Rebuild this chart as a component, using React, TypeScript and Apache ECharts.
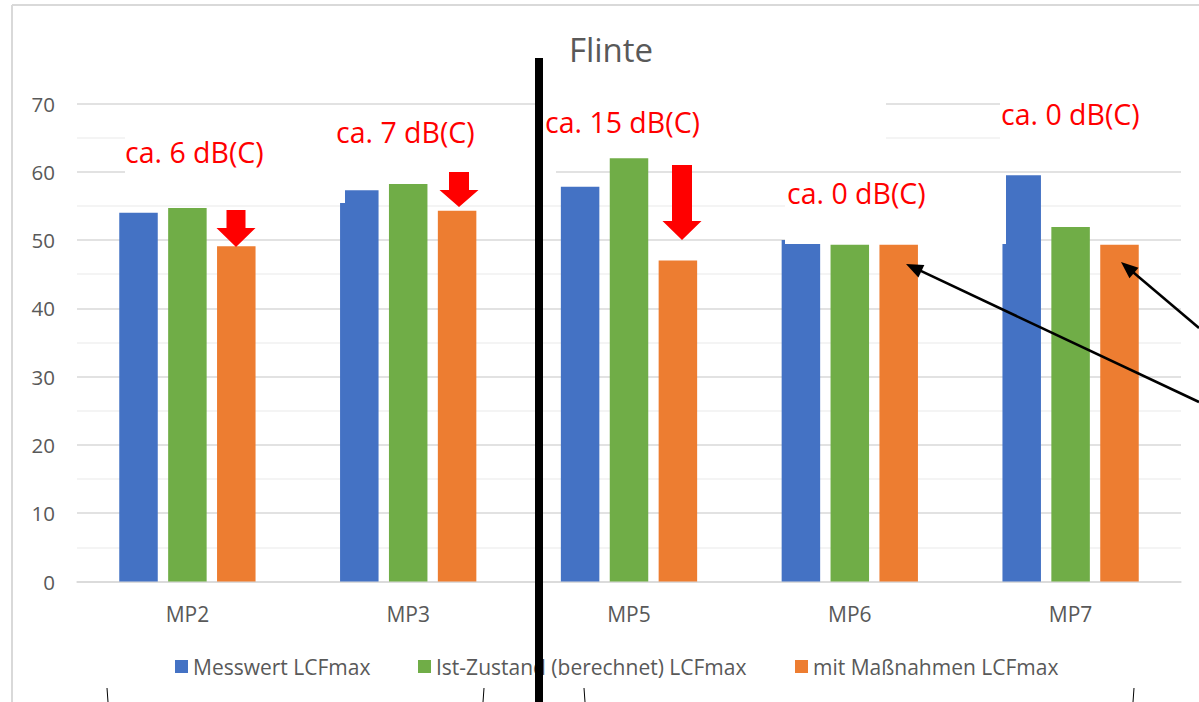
import React, { useEffect, useRef } from "react";
import * as echarts from "echarts";

const categories = ["MP2", "MP3", "MP5", "MP6", "MP7"];
const seriesNames = [
  "Messwert LCFmax",
  "Ist-Zustand (berechnet) LCFmax",
  "mit Maßnahmen LCFmax",
];
const messwert = [54.0, 57.3, 57.8, 50.0, 59.5];
const istZustand = [54.7, 58.2, 62.0, 49.3, 51.9];
const massnahmen = [49.1, 54.3, 47.0, 49.3, 49.3];
const yMin = 0;
const yMax = 70;
const yInterval = 10;
const titleText = "Flinte";
const noteTexts = ["ca. 6 dB(C)", "ca. 7 dB(C)", "ca. 15 dB(C)", "ca. 0 dB(C)", "ca. 0 dB(C)"];

const colors = ["#4472C4", "#70AD47", "#ED7D31"];
const FONT = "'Open Sans', 'Noto Sans', sans-serif";
const GRAY = "#595959";

function downArrow(cx: number, top: number, headTop: number, tip: number, shaftW: number, headW: number) {
  const s = shaftW / 2;
  const h = headW / 2;
  return {
    type: "polygon",
    z: 100,
    shape: {
      points: [
        [cx - s, top],
        [cx + s, top],
        [cx + s, headTop],
        [cx + h, headTop],
        [cx, tip],
        [cx - h, headTop],
        [cx - s, headTop],
      ],
    },
    style: { fill: "#FF0000" },
  };
}

function blackArrow(x1: number, y1: number, x2: number, y2: number) {
  const dx = x2 - x1;
  const dy = y2 - y1;
  const len = Math.sqrt(dx * dx + dy * dy);
  const ux = dx / len;
  const uy = dy / len;
  const hl = 17;
  const hw = 7;
  const bx = x2 - ux * hl;
  const by = y2 - uy * hl;
  const px = -uy;
  const py = ux;
  return [
    {
      type: "line",
      z: 100,
      shape: { x1, y1, x2: bx + ux * 3, y2: by + uy * 3 },
      style: { stroke: "#000", lineWidth: 2.5 },
    },
    {
      type: "polygon",
      z: 100,
      shape: {
        points: [
          [x2, y2],
          [bx + px * hw, by + py * hw],
          [bx - px * hw, by - py * hw],
        ],
      },
      style: { fill: "#000" },
    },
  ];
}

function whiteBox(x: number, y: number, w: number, h: number) {
  return { type: "rect", z: 99, shape: { x, y, width: w, height: h }, style: { fill: "#fff" } };
}

function note(text: string, x: number, y: number) {
  return {
    type: "text",
    z: 101,
    x,
    y,
    style: {
      text,
      fill: "#FF0000",
      font: `28.5px ${FONT}`,
      textAlign: "left",
      textVerticalAlign: "middle",
    },
  };
}

export default function App() {
  const ref = useRef<HTMLDivElement>(null);
  useEffect(() => {
    if (!ref.current) return;
    const chart = echarts.init(ref.current, undefined, { renderer: "svg" });
    const legendLefts = [175, 418, 795];
    const option: any = {
      animation: false,
      backgroundColor: "#fff",
      color: colors,
      grid: { left: 77, right: 18, top: 103.5, bottom: 120.5, containLabel: false },
      legend: seriesNames.map((n, i) => ({
        data: [n],
        left: legendLefts[i],
        top: 656,
        padding: 0,
        icon: "rect",
        itemWidth: 13,
        itemHeight: 13,
        itemGap: 6,
        selectedMode: false,
        textStyle: { color: GRAY, fontSize: 21, fontFamily: FONT, lineHeight: 20 },
      })),
      xAxis: {
        type: "category",
        data: categories,
        axisLine: { show: true, lineStyle: { color: "#d9d9d9", width: 1.5 } },
        axisTick: { show: false },
        axisLabel: { color: GRAY, fontSize: 21, fontFamily: FONT, margin: 22, lineHeight: 20 },
        splitLine: { show: false },
      },
      yAxis: {
        type: "value",
        min: yMin,
        max: yMax,
        interval: yInterval,
        axisLine: { show: false },
        axisTick: { show: false },
        axisLabel: { color: GRAY, fontSize: 20.5, fontFamily: FONT, margin: 22 },
        splitLine: { show: true, lineStyle: { color: "#d9d9d9", width: 1.5 } },
        minorTick: { show: false, splitNumber: 2 },
        minorSplitLine: { show: true, lineStyle: { color: "#f0f0f0", width: 1.5 } },
      },
      series: [
        { name: seriesNames[0], type: "bar", data: messwert, barWidth: 38.5, barGap: "27%" },
        { name: seriesNames[1], type: "bar", data: istZustand, barWidth: 38.5, barGap: "27%" },
        { name: seriesNames[2], type: "bar", data: massnahmen, barWidth: 38.5, barGap: "27%" },
      ],
      graphic: {
        elements: [
          // frame
          { type: "line", z: 100, shape: { x1: 12, y1: 5, x2: 1199, y2: 5 }, style: { stroke: "#d9d9d9", lineWidth: 2 } },
          { type: "line", z: 100, shape: { x1: 12, y1: 5, x2: 12, y2: 702 }, style: { stroke: "#d9d9d9", lineWidth: 2 } },
          // white text boxes
          whiteBox(125, 108, 220, 95),
          whiteBox(345, 108, 211, 72),
          whiteBox(542, 95, 344, 60),
          whiteBox(785, 174.5, 221, 69.5),
          whiteBox(1000, 95, 199, 65),
          // title
          {
            type: "text",
            z: 101,
            x: 611,
            y: 49,
            style: {
              text: titleText,
              fill: GRAY,
              font: `33px ${FONT}`,
              textAlign: "center",
              textVerticalAlign: "middle",
            },
          },
          // notes
          note(noteTexts[0], 125, 152),
          note(noteTexts[1], 336, 132),
          note(noteTexts[2], 545, 122),
          note(noteTexts[3], 787, 193),
          note(noteTexts[4], 1001, 114),
          // red arrows
          downArrow(236, 210, 228, 247, 19, 39),
          downArrow(459, 172, 190, 207, 20, 39),
          downArrow(682, 165, 221, 240, 20, 39),
          // black arrows
          ...blackArrow(1199, 328, 1121, 262),
          ...blackArrow(1199, 402, 906, 264),
          // thick vertical line
          { type: "rect", z: 102, shape: { x: 535, y: 58, width: 8, height: 644 }, style: { fill: "#000" } },
          // small ticks at bottom
          { type: "line", z: 100, shape: { x1: 107, y1: 688, x2: 108, y2: 702 }, style: { stroke: "#000", lineWidth: 1 } },
          { type: "line", z: 100, shape: { x1: 484, y1: 688, x2: 483, y2: 702 }, style: { stroke: "#000", lineWidth: 1 } },
          { type: "line", z: 100, shape: { x1: 584, y1: 688, x2: 585, y2: 702 }, style: { stroke: "#000", lineWidth: 1 } },
          { type: "line", z: 100, shape: { x1: 1134, y1: 688, x2: 1133, y2: 702 }, style: { stroke: "#000", lineWidth: 1 } },
        ],
      },
    };
    chart.setOption(option);
    return () => chart.dispose();
  }, []);
  return (
    <div
      ref={ref}
      style={{ position: "fixed", left: 0, top: 0, width: "1199px", height: "702px", background: "#fff" }}
    />
  );
}
